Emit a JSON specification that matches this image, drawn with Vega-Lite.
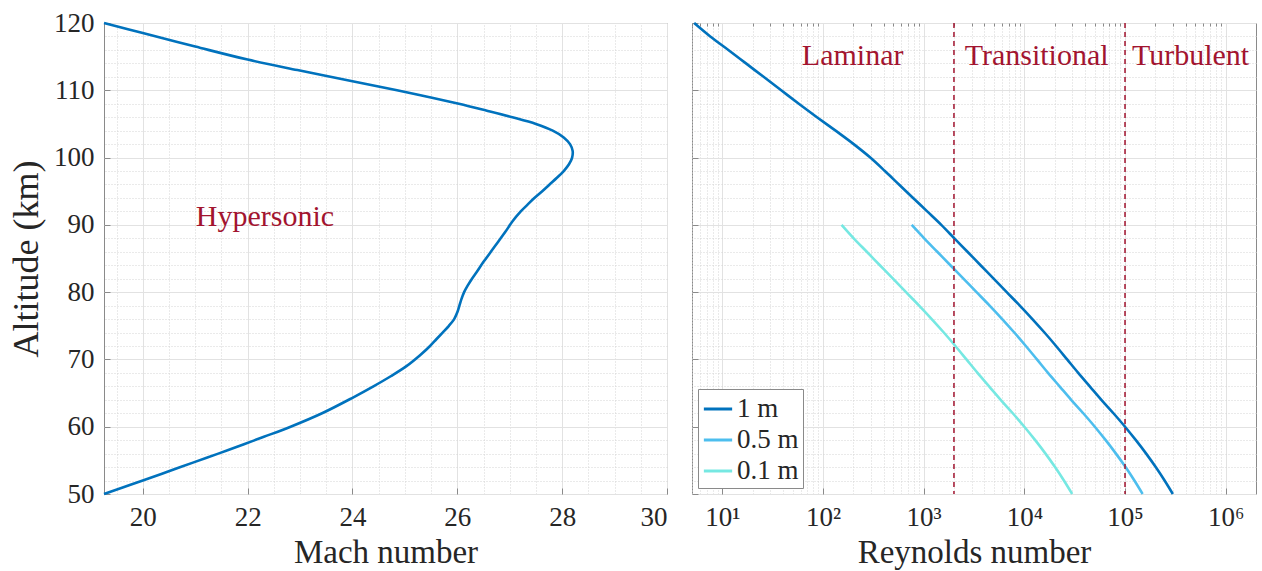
{
  "$schema": "https://vega.github.io/schema/vega-lite/v6.json",
  "padding": {"left": 8, "top": 8, "right": 4, "bottom": 0},
  "spacing": 20,
  "datasets": {
    "mach": [
      {"alt": 50, "mach": 19.26}, {"alt": 51, "mach": 19.63}, {"alt": 52, "mach": 20.0}, {"alt": 53.3, "mach": 20.47},
      {"alt": 54.7, "mach": 20.97}, {"alt": 56, "mach": 21.44}, {"alt": 57.4, "mach": 21.93}, {"alt": 58.5, "mach": 22.31},
      {"alt": 60.0, "mach": 22.82}, {"alt": 62.0, "mach": 23.42}, {"alt": 64.3, "mach": 24.0}, {"alt": 66, "mach": 24.4},
      {"alt": 67.5, "mach": 24.73}, {"alt": 69, "mach": 25.03}, {"alt": 70.7, "mach": 25.3}, {"alt": 72, "mach": 25.48},
      {"alt": 73, "mach": 25.6}, {"alt": 74, "mach": 25.72}, {"alt": 75, "mach": 25.84}, {"alt": 76, "mach": 25.94},
      {"alt": 77, "mach": 26.0}, {"alt": 78, "mach": 26.04}, {"alt": 79, "mach": 26.08}, {"alt": 80, "mach": 26.13},
      {"alt": 81, "mach": 26.2}, {"alt": 82, "mach": 26.28}, {"alt": 83, "mach": 26.37}, {"alt": 84.5, "mach": 26.5},
      {"alt": 86, "mach": 26.64}, {"alt": 87.5, "mach": 26.78}, {"alt": 89, "mach": 26.92}, {"alt": 90.5, "mach": 27.05},
      {"alt": 92, "mach": 27.21}, {"alt": 93, "mach": 27.34}, {"alt": 94, "mach": 27.47}, {"alt": 95, "mach": 27.62},
      {"alt": 96, "mach": 27.76}, {"alt": 97, "mach": 27.9}, {"alt": 98, "mach": 28.03}, {"alt": 99, "mach": 28.13},
      {"alt": 100, "mach": 28.19}, {"alt": 101, "mach": 28.2}, {"alt": 102, "mach": 28.15}, {"alt": 103, "mach": 28.03},
      {"alt": 104, "mach": 27.82}, {"alt": 105, "mach": 27.5}, {"alt": 106, "mach": 27.05}, {"alt": 107, "mach": 26.55},
      {"alt": 108, "mach": 26.03}, {"alt": 109, "mach": 25.45}, {"alt": 110, "mach": 24.85}, {"alt": 111.35, "mach": 24.0},
      {"alt": 113, "mach": 22.95}, {"alt": 114.56, "mach": 22.0}, {"alt": 116.5, "mach": 21.0}, {"alt": 118.5, "mach": 20.0},
      {"alt": 120, "mach": 19.26}
    ],
    "re": [
      {"d": "1 m", "alt": 120, "re": 5.25}, {"d": "1 m", "alt": 118, "re": 7.59}, {"d": "1 m", "alt": 116, "re": 11.48},
      {"d": "1 m", "alt": 114, "re": 17.18}, {"d": "1 m", "alt": 112, "re": 25.7}, {"d": "1 m", "alt": 110, "re": 38.46},
      {"d": "1 m", "alt": 108, "re": 57.54}, {"d": "1 m", "alt": 106, "re": 87.1}, {"d": "1 m", "alt": 104, "re": 133.4},
      {"d": "1 m", "alt": 102, "re": 201.8}, {"d": "1 m", "alt": 100, "re": 295.1}, {"d": "1 m", "alt": 98, "re": 412.1},
      {"d": "1 m", "alt": 96, "re": 568.9}, {"d": "1 m", "alt": 94, "re": 785.2}, {"d": "1 m", "alt": 92, "re": 1084},
      {"d": "1 m", "alt": 90, "re": 1496}, {"d": "1 m", "alt": 88, "re": 2018}, {"d": "1 m", "alt": 86, "re": 2723},
      {"d": "1 m", "alt": 84, "re": 3673}, {"d": "1 m", "alt": 82, "re": 4955}, {"d": "1 m", "alt": 80, "re": 6683},
      {"d": "1 m", "alt": 78, "re": 9016}, {"d": "1 m", "alt": 76, "re": 12020}, {"d": "1 m", "alt": 74, "re": 15850},
      {"d": "1 m", "alt": 72, "re": 20650}, {"d": "1 m", "alt": 70, "re": 26610}, {"d": "1 m", "alt": 68, "re": 34280},
      {"d": "1 m", "alt": 66, "re": 44670}, {"d": "1 m", "alt": 64, "re": 58210}, {"d": "1 m", "alt": 62, "re": 76740},
      {"d": "1 m", "alt": 60, "re": 100000}, {"d": "1 m", "alt": 58, "re": 128200}, {"d": "1 m", "alt": 56, "re": 162200},
      {"d": "1 m", "alt": 54, "re": 201800}, {"d": "1 m", "alt": 52, "re": 247200}, {"d": "1 m", "alt": 50, "re": 298500},
      {"d": "0.5 m", "alt": 90, "re": 760}, {"d": "0.5 m", "alt": 88, "re": 1012}, {"d": "0.5 m", "alt": 86, "re": 1365},
      {"d": "0.5 m", "alt": 84, "re": 1841}, {"d": "0.5 m", "alt": 82, "re": 2483}, {"d": "0.5 m", "alt": 80, "re": 3350},
      {"d": "0.5 m", "alt": 78, "re": 4519}, {"d": "0.5 m", "alt": 76, "re": 6026}, {"d": "0.5 m", "alt": 74, "re": 7943},
      {"d": "0.5 m", "alt": 72, "re": 10350}, {"d": "0.5 m", "alt": 70, "re": 13340}, {"d": "0.5 m", "alt": 68, "re": 17180},
      {"d": "0.5 m", "alt": 66, "re": 22390}, {"d": "0.5 m", "alt": 64, "re": 29170}, {"d": "0.5 m", "alt": 62, "re": 38460},
      {"d": "0.5 m", "alt": 60, "re": 50120}, {"d": "0.5 m", "alt": 58, "re": 64270}, {"d": "0.5 m", "alt": 56, "re": 81280},
      {"d": "0.5 m", "alt": 54, "re": 101200}, {"d": "0.5 m", "alt": 52, "re": 123900}, {"d": "0.5 m", "alt": 50, "re": 149600},
      {"d": "0.1 m", "alt": 90, "re": 153}, {"d": "0.1 m", "alt": 88, "re": 201.8}, {"d": "0.1 m", "alt": 86, "re": 272.3},
      {"d": "0.1 m", "alt": 84, "re": 367.3}, {"d": "0.1 m", "alt": 82, "re": 495.5}, {"d": "0.1 m", "alt": 80, "re": 668.3},
      {"d": "0.1 m", "alt": 78, "re": 901.6}, {"d": "0.1 m", "alt": 76, "re": 1202}, {"d": "0.1 m", "alt": 74, "re": 1585},
      {"d": "0.1 m", "alt": 72, "re": 2065}, {"d": "0.1 m", "alt": 70, "re": 2661}, {"d": "0.1 m", "alt": 68, "re": 3428},
      {"d": "0.1 m", "alt": 66, "re": 4467}, {"d": "0.1 m", "alt": 64, "re": 5821}, {"d": "0.1 m", "alt": 62, "re": 7674},
      {"d": "0.1 m", "alt": 60, "re": 10000}, {"d": "0.1 m", "alt": 58, "re": 12820}, {"d": "0.1 m", "alt": 56, "re": 16220},
      {"d": "0.1 m", "alt": 54, "re": 20180}, {"d": "0.1 m", "alt": 52, "re": 24720}, {"d": "0.1 m", "alt": 50, "re": 29850}
    ],
    "bounds": [{"re": 2000}, {"re": 100000}],
    "regimes": [
      {"label": "Laminar", "re": 197, "alt": 113.7},
      {"label": "Transitional", "re": 13250, "alt": 113.7},
      {"label": "Turbulent", "re": 448000, "alt": 113.7}
    ],
    "hyper": [{"label": "Hypersonic", "mach": 22.33, "alt": 89.8}]
  },
  "hconcat": [
    {
      "width": 563,
      "height": 471,
      "layer": [
        {
          "data": {"name": "mach"},
          "mark": {"type": "line", "strokeOpacity": 0},
          "encoding": {
            "x": {"field": "mach", "type": "quantitative", "scale": {"domain": [19.26, 30], "nice": false, "zero": false},
              "axis": {"orient": "top", "values": [19.5, 20.5, 21, 21.5, 22.5, 23, 23.5, 24.5, 25, 25.5, 26.5, 27, 27.5, 28.5, 29, 29.5],
                "grid": true, "gridDash": [1, 2], "gridColor": "#d4d4d4", "ticks": false, "labels": false, "domain": false, "title": null}},
            "y": {"field": "alt", "type": "quantitative", "scale": {"domain": [50, 120], "nice": false, "zero": false},
              "axis": {"orient": "right", "values": [52, 54, 56, 58, 62, 64, 66, 68, 72, 74, 76, 78, 82, 84, 86, 88, 92, 94, 96, 98, 102, 104, 106, 108, 112, 114, 116, 118],
                "grid": true, "gridDash": [1, 2], "gridColor": "#d4d4d4", "ticks": false, "labels": false, "domain": false, "title": null}},
            "order": {"field": "alt", "type": "quantitative"}
          }
        },
        {
          "data": {"name": "mach"},
          "mark": {"type": "line", "color": "#0072BD", "strokeWidth": 2.6, "interpolate": "catmull-rom"},
          "encoding": {
            "x": {"field": "mach", "type": "quantitative",
              "axis": {"orient": "bottom", "values": [20, 22, 24, 26, 28, 30], "grid": true, "gridColor": "#e2e2e2",
                "tickSize": -6, "labelPadding": 16, "labelFontSize": 27, "labelFont": "Liberation Serif", "labelColor": "#262626",
                "title": "Mach number", "titleFontSize": 33, "titleFont": "Liberation Serif", "titleColor": "#262626", "titlePadding": 6, "titleFontWeight": "normal"}},
            "y": {"field": "alt", "type": "quantitative",
              "axis": {"orient": "left", "values": [50, 60, 70, 80, 90, 100, 110, 120], "grid": true, "gridColor": "#e2e2e2",
                "tickSize": -6, "labelPadding": 16, "labelFontSize": 27, "labelFont": "Liberation Serif", "labelColor": "#262626",
                "title": "Altitude (km)", "titleFontSize": 36, "titleFont": "Liberation Serif", "titleColor": "#262626", "titlePadding": 8, "titleFontWeight": "normal"}},
            "order": {"field": "alt", "type": "quantitative"}
          }
        },
        {
          "data": {"name": "hyper"},
          "mark": {"type": "text", "color": "#A2142F", "fontSize": 30, "font": "Liberation Serif", "align": "center", "baseline": "alphabetic"},
          "encoding": {
            "x": {"field": "mach", "type": "quantitative", "axis": null},
            "y": {"field": "alt", "type": "quantitative", "axis": null},
            "text": {"field": "label"}
          }
        }
      ],
      "resolve": {"axis": {"x": "independent", "y": "independent"}}
    },
    {
      "width": 564,
      "height": 471,
      "layer": [
        {
          "data": {"name": "re"},
          "mark": {"type": "line", "strokeOpacity": 0},
          "encoding": {
            "x": {"field": "re", "type": "quantitative", "scale": {"type": "log", "domain": [5, 2000000], "nice": false},
              "axis": {"orient": "top", "values": [5, 6, 7, 8, 9, 20, 30, 40, 50, 60, 70, 80, 90, 200, 300, 400, 500, 600, 700, 800, 900, 2000, 3000, 4000, 5000, 6000, 7000, 8000, 9000, 20000, 30000, 40000, 50000, 60000, 70000, 80000, 90000, 200000, 300000, 400000, 500000, 600000, 700000, 800000, 900000],
                "grid": true, "gridDash": [1, 2], "gridColor": "#d4d4d4", "ticks": true, "tickSize": -3, "tickColor": "#8a8a8a", "labels": false, "domain": false, "title": null}},
            "y": {"field": "alt", "type": "quantitative", "scale": {"domain": [50, 120], "nice": false, "zero": false},
              "axis": {"orient": "right", "values": [52, 54, 56, 58, 62, 64, 66, 68, 72, 74, 76, 78, 82, 84, 86, 88, 92, 94, 96, 98, 102, 104, 106, 108, 112, 114, 116, 118],
                "grid": true, "gridDash": [1, 2], "gridColor": "#d4d4d4", "ticks": false, "labels": false, "domain": false, "title": null}},
            "detail": {"field": "d"}
          }
        },
        {
          "data": {"name": "re"},
          "mark": {"type": "line", "strokeWidth": 2.6, "interpolate": "monotone"},
          "encoding": {
            "x": {"field": "re", "type": "quantitative",
              "axis": {"orient": "bottom", "values": [10, 100, 1000, 10000, 100000, 1000000], "grid": true, "gridColor": "#e2e2e2",
                "tickSize": -6, "labelPadding": 16, "labelFontSize": 27, "labelFont": "Liberation Serif", "labelColor": "#262626",
                "labelExpr": "datum.value == 10 ? '10¹' : datum.value == 100 ? '10²' : datum.value == 1000 ? '10³' : datum.value == 10000 ? '10⁴' : datum.value == 100000 ? '10⁵' : '10⁶'",
                "title": "Reynolds number", "titleFontSize": 33, "titleFont": "Liberation Serif", "titleColor": "#262626", "titlePadding": 6, "titleFontWeight": "normal"}},
            "y": {"field": "alt", "type": "quantitative",
              "axis": {"orient": "left", "values": [50, 60, 70, 80, 90, 100, 110, 120], "grid": true, "gridColor": "#e2e2e2",
                "tickSize": -6, "labels": false, "title": null}},
            "color": {"field": "d", "type": "nominal",
              "scale": {"domain": ["1 m", "0.5 m", "0.1 m"], "range": ["#0072BD", "#4DBEEE", "#76E8E2"]},
              "legend": {"title": null, "orient": "bottom-left", "offset": 6, "symbolType": "stroke", "symbolSize": 800, "symbolStrokeWidth": 3,
                "labelFontSize": 27, "labelFont": "Liberation Serif", "labelColor": "#262626", "fillColor": "white", "strokeColor": "#8a8a8a",
                "padding": 4, "rowPadding": 2, "labelOffset": 3, "symbolOffset": 0}}
          }
        },
        {
          "data": {"name": "bounds"},
          "mark": {"type": "rule", "color": "#A2142F", "strokeWidth": 1.5, "strokeDash": [5, 4]},
          "encoding": {"x": {"field": "re", "type": "quantitative", "axis": null}}
        },
        {
          "data": {"name": "regimes"},
          "mark": {"type": "text", "color": "#A2142F", "fontSize": 30, "font": "Liberation Serif", "align": "center", "baseline": "alphabetic"},
          "encoding": {
            "x": {"field": "re", "type": "quantitative", "axis": null},
            "y": {"field": "alt", "type": "quantitative", "axis": null},
            "text": {"field": "label"}
          }
        }
      ],
      "resolve": {"axis": {"x": "independent", "y": "independent"}}
    }
  ],
  "resolve": {"scale": {"color": "independent"}, "legend": {"color": "independent"}},
  "config": {
    "view": {"stroke": "#8a8a8a", "strokeWidth": 1},
    "font": "Liberation Serif",
    "axis": {"labelFont": "Liberation Serif", "titleFont": "Liberation Serif", "labelColor": "#262626", "titleColor": "#262626",
      "domain": false, "tickColor": "#8a8a8a", "tickWidth": 1}
  }
}
